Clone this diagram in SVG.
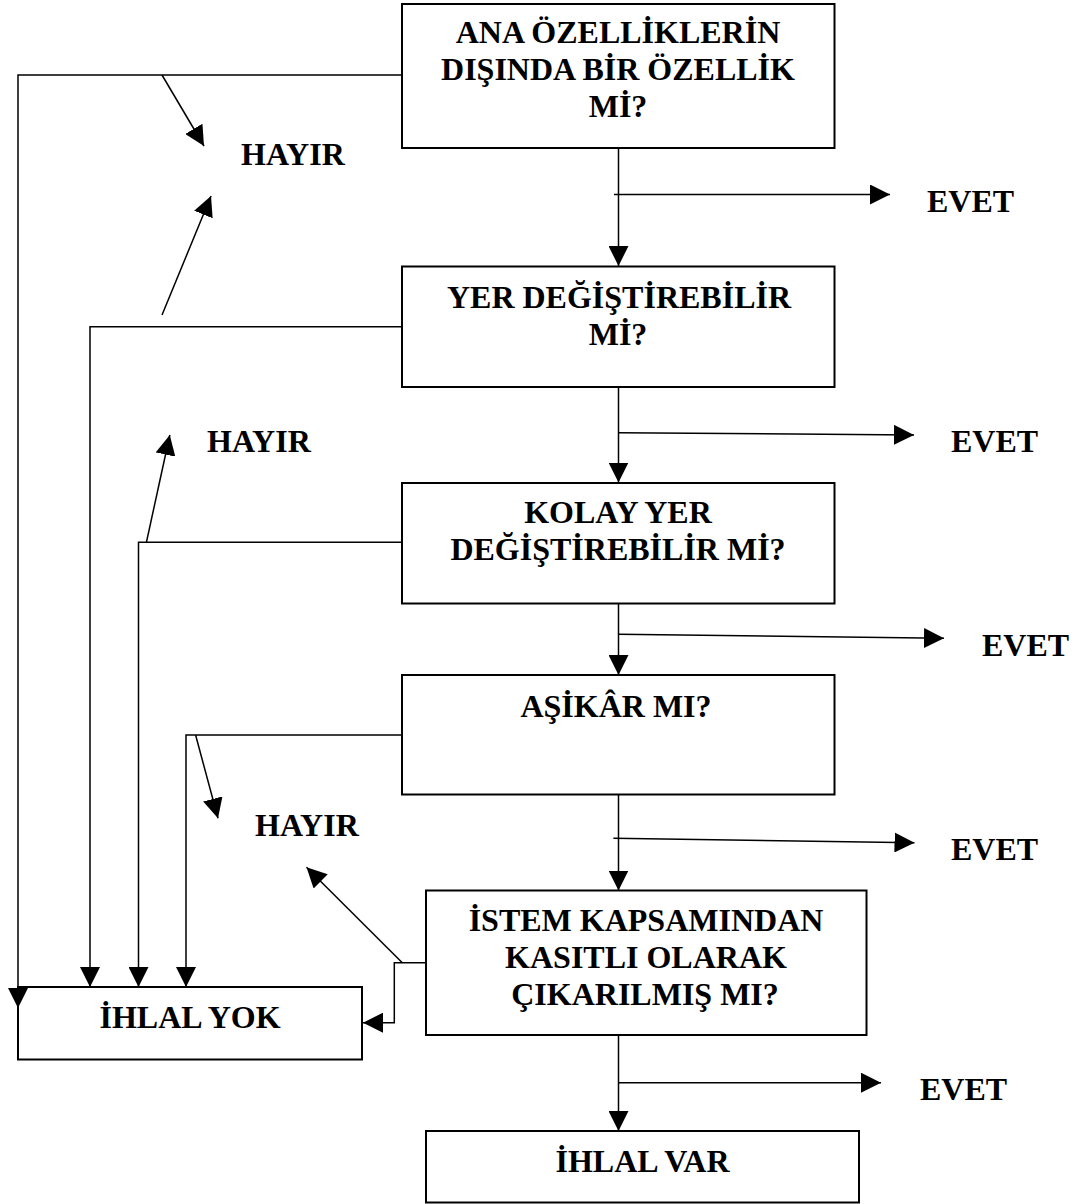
<svg xmlns="http://www.w3.org/2000/svg" width="1075" height="1204" viewBox="0 0 1075 1204">
<style>
.box{fill:#fff;stroke:#000;stroke-width:2}
.ln{fill:none;stroke:#000;stroke-width:1.5}
.arr{fill:none;stroke:#000;stroke-width:1.5;marker-end:url(#ah)}
text{font-family:"Liberation Serif","Times New Roman",serif;font-weight:bold;font-size:32px;fill:#000}
.c{text-anchor:middle}
</style>
<defs>
<marker id="ah" viewBox="0 0 20 20" refX="20" refY="10" markerWidth="20" markerHeight="20" markerUnits="userSpaceOnUse" orient="auto">
<path d="M0,0 L20,10 L0,20 z" fill="#000"/>
</marker>
</defs>
<rect width="1075" height="1204" fill="#fff"/>
<g id="n1"><rect class="box" x="402" y="4" width="432.5" height="144"/>
<text class="c" x="618" y="43">ANA ÖZELLİKLERİN</text>
<text class="c" x="618" y="80">DIŞINDA BİR ÖZELLİK</text>
<text class="c" x="618" y="117">Mİ?</text></g>
<g id="n2"><rect class="box" x="402" y="266.5" width="432.5" height="120.5"/>
<text class="c" x="619" y="308">YER DEĞİŞTİREBİLİR</text>
<text class="c" x="618" y="345">Mİ?</text></g>
<g id="n3"><rect class="box" x="402" y="483" width="432.5" height="120.5"/>
<text class="c" x="618" y="523">KOLAY YER</text>
<text class="c" x="618" y="560">DEĞİŞTİREBİLİR Mİ?</text></g>
<g id="n4"><rect class="box" x="402" y="675" width="432.5" height="119.5"/>
<text class="c" x="616" y="717">AŞİKÂR MI?</text></g>
<g id="n5"><rect class="box" x="426" y="890.5" width="440.5" height="144.5"/>
<text class="c" x="646" y="931">İSTEM KAPSAMINDAN</text>
<text class="c" x="646" y="968">KASITLI OLARAK</text>
<text class="c" x="645" y="1005">ÇIKARILMIŞ MI?</text></g>
<g id="n6"><rect class="box" x="18" y="987" width="344" height="72.5"/>
<text class="c" x="190" y="1028">İHLAL YOK</text></g>
<g id="n7"><rect class="box" x="426" y="1131" width="433" height="71.5"/>
<text class="c" x="642.5" y="1172">İHLAL VAR</text></g>
<g id="connectors">
<line class="arr" x1="618.5" y1="148" x2="618.5" y2="266"/>
<line class="arr" x1="618.5" y1="387" x2="618.5" y2="482.5"/>
<line class="arr" x1="618.5" y1="603.5" x2="618.5" y2="675"/>
<line class="arr" x1="618.5" y1="794.5" x2="618.5" y2="890.5"/>
<line class="arr" x1="618.5" y1="1035" x2="618.5" y2="1131"/>
<line class="arr" x1="614" y1="194.5" x2="890" y2="194.5"/>
<line class="arr" x1="618.5" y1="432.7" x2="914" y2="435"/>
<line class="arr" x1="618.5" y1="634.3" x2="944" y2="638.3"/>
<line class="arr" x1="613.4" y1="838.3" x2="914.5" y2="842.7"/>
<line class="arr" x1="618.5" y1="1082.7" x2="881" y2="1082.7"/>
<polyline class="arr" points="402,75 18,75 18,1008"/>
<polyline class="arr" points="402,326.7 90,326.7 90,987"/>
<polyline class="arr" points="402,542.3 138.5,542.3 138.5,987"/>
<polyline class="arr" points="402,735 186,735 186,987"/>
<polyline class="arr" points="426,962.7 394.3,962.7 394.3,1022.7 363,1022.7"/>
<line class="arr" x1="162" y1="75" x2="204" y2="146"/>
<line class="arr" x1="162" y1="315" x2="211" y2="196"/>
<line class="arr" x1="146.4" y1="542.3" x2="169.8" y2="435"/>
<line class="arr" x1="195.6" y1="735" x2="218" y2="818.3"/>
<line class="arr" x1="402.3" y1="962.7" x2="306.5" y2="867.3"/>
</g>
<g id="labels">
<text x="241" y="165">HAYIR</text>
<text x="207" y="452">HAYIR</text>
<text x="255" y="836">HAYIR</text>
<text x="927" y="212">EVET</text>
<text x="951" y="452">EVET</text>
<text x="982" y="656">EVET</text>
<text x="951" y="860">EVET</text>
<text x="920" y="1100">EVET</text>
</g>
</svg>
